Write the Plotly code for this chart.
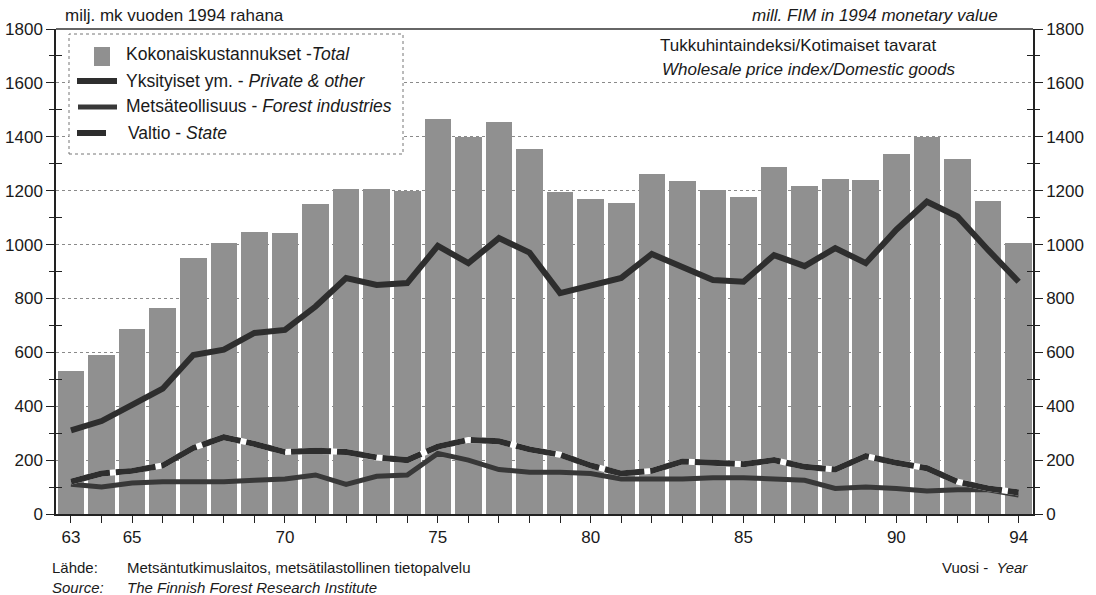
import plotly.graph_objects as go

years = list(range(1963, 1995))
total = [530, 590, 687, 765, 950, 1006, 1047, 1043, 1150, 1208, 1205, 1200,
         1465, 1400, 1455, 1355, 1196, 1169, 1154, 1262, 1236, 1203, 1178, 1289,
         1217, 1243, 1240, 1336, 1400, 1318, 1162, 1006]
private = [310, 345, 405, 465, 590, 610, 672, 683, 770, 876, 850, 857,
           995, 931, 1024, 970, 820, 850, 876, 965, 915, 868, 862, 961,
           920, 987, 931, 1055, 1159, 1104, 980, 862]
forest = [110, 100, 115, 120, 120, 120, 125, 130, 145, 110, 140, 145,
          225, 200, 165, 155, 155, 150, 130, 130, 130, 135, 135, 130,
          125, 95, 100, 95, 85, 90, 90, 70]
state = [120, 150, 160, 180, 245, 285, 260, 230, 235, 230, 210, 200,
         250, 275, 270, 240, 220, 180, 150, 160, 195, 190, 185, 200,
         175, 165, 215, 190, 170, 120, 95, 80]
label_years = [1963, 1965, 1970, 1975, 1980, 1985, 1990, 1994]
yticks = list(range(0, 1801, 200))
yminor = list(range(100, 1800, 200))

FONT = "Liberation Sans, Arial, sans-serif"
BAR = "#909090"
DARK = "#2e2e2e"
AX = "#222222"

# plot area in pixels
L, R, T, B = 56, 1033, 29, 514
def px(x):
    return (x - L) / (R - L)
def py(y):
    return (B - y) / (B - T)

fig = go.Figure()
fig.add_trace(go.Bar(x=years, y=total, width=0.87, marker=dict(color=BAR, line=dict(width=0)),
                     showlegend=False))
fig.add_trace(go.Scatter(x=years, y=private, mode="lines", line=dict(color=DARK, width=6),
                         showlegend=False))
fig.add_trace(go.Scatter(x=years, y=forest, mode="lines", line=dict(color="#383838", width=5),
                         showlegend=False))
fig.add_trace(go.Scatter(x=years, y=state, mode="lines", line=dict(color="white", width=6),
                         showlegend=False))
fig.add_trace(go.Scatter(x=years, y=state, mode="lines",
                         line=dict(color=DARK, width=6, dash="40px,6px"), showlegend=False))
for ax in ["y2", "y3", "y4"]:
    fig.add_trace(go.Scatter(x=[years[0]], y=[0], yaxis=ax, mode="markers",
                             marker=dict(opacity=0), showlegend=False, hoverinfo="skip"))

xticktext = [str(y)[2:] if y in label_years else "" for y in years]

common_y = dict(range=[0, 1800], zeroline=False, automargin=False, tickcolor=AX, tickwidth=1.2)
fig.update_layout(
    width=1096, height=595,
    margin=dict(l=L, r=1096 - R, t=T, b=595 - B, autoexpand=False),
    paper_bgcolor="white", plot_bgcolor="white",
    font=dict(family=FONT, size=17, color="#1a1a1a"),
    bargap=0,
    xaxis=dict(range=[1962.51, 1994.47], tickvals=years, ticktext=xticktext,
               ticks="outside", ticklen=7, tickcolor=AX, tickwidth=1.2,
               showline=True, linecolor=AX, linewidth=1.5, showgrid=False,
               zeroline=False, automargin=False, tickfont=dict(size=17)),
    yaxis=dict(**common_y, tickvals=yticks, ticks="outside", ticklen=8,
               showline=True, linecolor=AX, linewidth=1.5, showgrid=True,
               gridcolor="#8a8a8a", griddash="dot", gridwidth=1, tickfont=dict(size=17),
               minor=dict(tickvals=yminor, ticks="outside", ticklen=5, tickcolor=AX, showgrid=False)),
    yaxis2=dict(**common_y, tickvals=yticks, overlaying="y", side="right",
                ticks="outside", ticklen=8, showline=True, linecolor=AX, linewidth=1.5,
                showgrid=False, tickfont=dict(size=17),
                minor=dict(tickvals=yminor, ticks="outside", ticklen=5, tickcolor=AX)),
    yaxis3=dict(**common_y, overlaying="y", side="left", tickvals=yminor,
                ticks="inside", ticklen=6, showticklabels=False, showgrid=False, showline=False),
    yaxis4=dict(**common_y, overlaying="y", side="right", tickvals=yminor,
                ticks="inside", ticklen=6, showticklabels=False, showgrid=False, showline=False),
)

# top frame line at 1800
fig.add_shape(type="line", xref="paper", yref="paper", x0=0, x1=1, y0=1, y1=1,
              line=dict(color="#333", width=1.3))

# legend box and swatches
fig.add_shape(type="rect", xref="paper", yref="paper", x0=px(69), x1=px(403), y0=py(154), y1=py(34),
              line=dict(color="#777", width=1, dash="dot"), fillcolor="white")
fig.add_shape(type="rect", xref="paper", yref="paper", x0=px(94), x1=px(110), y0=py(66), y1=py(47),
              line=dict(width=0), fillcolor=BAR)
fig.add_shape(type="line", xref="paper", yref="paper", x0=px(77), x1=px(117), y0=py(81), y1=py(81),
              line=dict(color=DARK, width=6))
fig.add_shape(type="line", xref="paper", yref="paper", x0=px(78), x1=px(117), y0=py(107), y1=py(107),
              line=dict(color="#383838", width=5))
fig.add_shape(type="line", xref="paper", yref="paper", x0=px(77), x1=px(106), y0=py(133), y1=py(133),
              line=dict(color=DARK, width=6))

def ann(text, x, y, anchor="left", size=15, italic=False):
    fig.add_annotation(text=f"<i>{text}</i>" if italic else text, xref="paper", yref="paper",
                       x=px(x), y=py(y), xanchor=anchor, yanchor="middle", showarrow=False,
                       font=dict(family=FONT, size=size, color="#1a1a1a"))

ann("Kokonaiskustannukset -<i>Total</i>", 124, 54, size=17.5)
ann("Yksityiset ym. - <i>Private &amp; other</i>", 124, 81, size=17.5)
ann("Metsäteollisuus - <i>Forest industries</i>", 124, 106, size=17.5)
ann("Valtio - <i>State</i>", 126, 133, size=17.5)

ann("milj. mk vuoden 1994 rahana", 63, 15, size=17)
ann("mill. FIM in 1994 monetary value", 1000, 15, anchor="right", size=17, italic=True)
ann("Tukkuhintaindeksi/Kotimaiset tavarat", 658, 46, size=17)
ann("Wholesale price index/Domestic goods", 660, 69, size=17, italic=True)

ann("Lähde:", 50, 567, size=15)
ann("Metsäntutkimuslaitos, metsätilastollinen tietopalvelu", 125, 567, size=15)
ann("Source:", 50, 587, size=15, italic=True)
ann("The Finnish Forest Research Institute", 125, 587, size=15, italic=True)
ann("Vuosi -  <i>Year</i>", 1030, 567, anchor="right", size=15)

fig.write_html("out.html", config={"displayModeBar": False},
               post_script="document.body.style.margin='0';")
